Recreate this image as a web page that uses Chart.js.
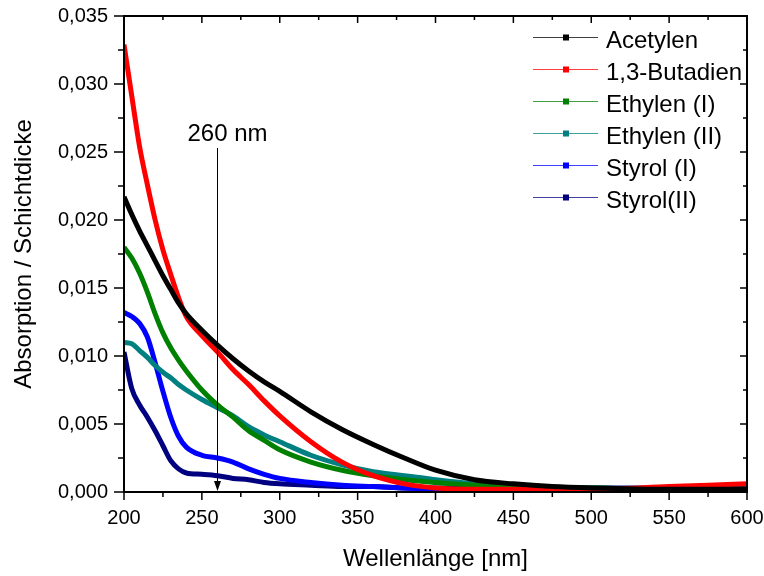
<!DOCTYPE html>
<html>
<head>
<meta charset="utf-8">
<script src="https://cdn.jsdelivr.net/npm/chart.js@4.4.1/dist/chart.umd.min.js"></script>
<style>
  html, body { margin: 0; padding: 0; background: #fff; }
  #wrap { width: 764px; height: 576px; }
</style>
</head>
<body>
<div id="wrap"><canvas id="uvChart" width="764" height="576"></canvas></div>
<script>
// Wellenlängen (nm) und Absorption / Schichtdicke
const wavelengths = [200, 205, 210, 215, 220, 225, 230, 235, 240, 250, 260, 270, 280, 290, 300, 320, 340, 360, 380, 400, 425, 450, 475, 500, 550, 600];

const acetylen   = [0.0217, 0.0204, 0.0192, 0.0181, 0.0170, 0.0159, 0.0149, 0.0139, 0.0131, 0.0119, 0.0108, 0.0098, 0.0089, 0.0081, 0.0074, 0.0059, 0.0046, 0.0035, 0.0025, 0.0016, 0.0009, 0.0006, 0.0004, 0.0003, 0.0002, 0.0002];
const butadien   = [0.0329, 0.0291, 0.0254, 0.0226, 0.0200, 0.0178, 0.0160, 0.0143, 0.0129, 0.0115, 0.0103, 0.0090, 0.0079, 0.0067, 0.0056, 0.0037, 0.0022, 0.0012, 0.0006, 0.0003, 0.0002, 0.0002, 0.0002, 0.0002, 0.0004, 0.0006];
const ethylen1   = [0.0180, 0.0172, 0.0161, 0.0147, 0.0131, 0.0117, 0.0106, 0.0097, 0.0089, 0.0075, 0.0064, 0.0055, 0.0045, 0.0038, 0.0031, 0.0022, 0.0016, 0.0012, 0.0009, 0.0007, 0.0005, 0.0004, 0.0003, 0.0003, 0.0002, 0.0002];
const ethylen2   = [0.0110, 0.0109, 0.0104, 0.0099, 0.0093, 0.0088, 0.0084, 0.0079, 0.0075, 0.0068, 0.0062, 0.0056, 0.0048, 0.0042, 0.0037, 0.0027, 0.0020, 0.0015, 0.0012, 0.0009, 0.0006, 0.0004, 0.0003, 0.0003, 0.0002, 0.0002];
const styrol1    = [0.0132, 0.0129, 0.0124, 0.0114, 0.0095, 0.0074, 0.0055, 0.0041, 0.0033, 0.0027, 0.0025, 0.0022, 0.0017, 0.0013, 0.0010, 0.0007, 0.0005, 0.0004, 0.0003, 0.0002, 0.0002, 0.0002, 0.0001, 0.0001, 0.0001, 0.0001];
const styrol2    = [0.0103, 0.0076, 0.0064, 0.0055, 0.0045, 0.0034, 0.0023, 0.0017, 0.0014, 0.0013, 0.0012, 0.0010, 0.0009, 0.0007, 0.0006, 0.0005, 0.0004, 0.0004, 0.0003, 0.0003, 0.0003, 0.0003, 0.0003, 0.0003, 0.0003, 0.0003];

const seriesNames  = ["Acetylen", "1,3-Butadien", "Ethylen (I)", "Ethylen (II)", "Styrol (I)", "Styrol(II)"];
const seriesColors = ["#000000", "#ff0000", "#008000", "#008080", "#0000ff", "#000080"];

const xTicks = [200, 250, 300, 350, 400, 450, 500, 550, 600];
const yTicks = [0, 0.005, 0.010, 0.015, 0.020, 0.025, 0.030, 0.035];

// Markierung 260 nm
const markerNm = 260;
const markerTop = 0.0253;
const markerTextY = 0.0263;
const markerLabel = "260 nm";

const FONT = "'Liberation Sans', Arial, sans-serif";

function toPoints(values) {
  return wavelengths.map((w, i) => ({ x: w, y: values[i] }));
}

const allSeries = [acetylen, butadien, ethylen1, ethylen2, styrol1, styrol2];

const datasets = allSeries.map((vals, i) => ({
  label: seriesNames[i],
  data: toPoints(vals),
  borderColor: seriesColors[i],
  backgroundColor: seriesColors[i],
  borderWidth: 5,
  pointRadius: 0,
  cubicInterpolationMode: "monotone",
  fill: false
}));

// Rahmen, Ticks, Pfeil und Legende
const originPlugin = {
  id: "originStyle",
  afterDatasetsDraw(chart) {
    const ctx = chart.ctx;
    const a = chart.chartArea;
    const xs = chart.scales.x;
    const ys = chart.scales.y;
    ctx.save();

    // Pfeil bei 260 nm
    const mx = Math.round(xs.getPixelForValue(markerNm)) + 0.5;
    const myTop = ys.getPixelForValue(markerTop);
    const myBot = ys.getPixelForValue(0);
    ctx.strokeStyle = "#000";
    ctx.fillStyle = "#000";
    ctx.lineWidth = 1;
    ctx.beginPath();
    ctx.moveTo(mx, myTop);
    ctx.lineTo(mx, myBot - 8);
    ctx.stroke();
    ctx.beginPath();
    ctx.moveTo(mx - 3.5, myBot - 11);
    ctx.lineTo(mx + 3.5, myBot - 11);
    ctx.lineTo(mx, myBot - 1);
    ctx.closePath();
    ctx.fill();
    ctx.font = "24px " + FONT;
    ctx.textAlign = "center";
    ctx.textBaseline = "middle";
    ctx.fillText(markerLabel, mx + 10, ys.getPixelForValue(markerTextY));

    // Rahmen
    ctx.lineWidth = 2;
    ctx.strokeRect(a.left, a.top, a.right - a.left, a.bottom - a.top);

    // Ticks
    ctx.lineWidth = 1.5;
    ctx.beginPath();
    for (let i = 0; i < yTicks.length; i++) {
      const y = ys.getPixelForValue(yTicks[i]);
      ctx.moveTo(a.left - 10, y); ctx.lineTo(a.left, y);
      ctx.moveTo(a.right - 7, y); ctx.lineTo(a.right, y);
      if (i < yTicks.length - 1) {
        const ym = ys.getPixelForValue((yTicks[i] + yTicks[i + 1]) / 2);
        ctx.moveTo(a.left - 6, ym); ctx.lineTo(a.left, ym);
        ctx.moveTo(a.right - 4, ym); ctx.lineTo(a.right, ym);
      }
    }
    for (let i = 0; i < xTicks.length; i++) {
      const x = xs.getPixelForValue(xTicks[i]);
      ctx.moveTo(x, a.bottom); ctx.lineTo(x, a.bottom + 8);
      ctx.moveTo(x, a.top); ctx.lineTo(x, a.top + 7);
      if (i < xTicks.length - 1) {
        const xm = xs.getPixelForValue((xTicks[i] + xTicks[i + 1]) / 2);
        ctx.moveTo(xm, a.bottom); ctx.lineTo(xm, a.bottom + 5);
        ctx.moveTo(xm, a.top); ctx.lineTo(xm, a.top + 4);
      }
    }
    ctx.stroke();

    // Legende
    ctx.font = "24px " + FONT;
    ctx.textAlign = "left";
    ctx.textBaseline = "middle";
    chart.data.datasets.forEach((ds, i) => {
      const ly = Math.round(37 + i * 31.9) + 0.5;
      ctx.strokeStyle = ds.borderColor;
      ctx.globalAlpha = 0.75;
      ctx.lineWidth = 1;
      ctx.beginPath();
      ctx.moveTo(533, ly);
      ctx.lineTo(598, ly);
      ctx.stroke();
      ctx.globalAlpha = 1;
      ctx.fillStyle = ds.borderColor;
      ctx.fillRect(563, ly - 3, 6, 6);
      ctx.fillStyle = "#000";
      ctx.fillText(ds.label, 606, ly + 4);
    });

    ctx.restore();
  }
};

new Chart(document.getElementById("uvChart"), {
  type: "line",
  data: { datasets: datasets },
  options: {
    responsive: false,
    animation: false,
    layout: { padding: { left: 0, top: 16, right: 17, bottom: 0 } },
    plugins: {
      legend: { display: false },
      tooltip: { enabled: false }
    },
    scales: {
      x: {
        type: "linear",
        min: 200,
        max: 600,
        grid: { display: false, drawTicks: false },
        border: { display: false },
        afterBuildTicks: s => { s.ticks = xTicks.map(v => ({ value: v })); },
        afterFit: s => { s.height = 84; s.paddingLeft = 0; s.paddingRight = 0; },
        ticks: {
          padding: 14,
          color: "#000",
          font: { family: FONT, size: 20 },
          callback: v => String(v)
        },
        title: {
          display: true,
          text: "Wellenlänge [nm]",
          color: "#000",
          font: { family: FONT, size: 24 },
          padding: { top: 0, bottom: 2 }
        }
      },
      y: {
        type: "linear",
        min: 0,
        max: 0.035,
        grid: { display: false, drawTicks: false },
        border: { display: false },
        afterBuildTicks: s => { s.ticks = yTicks.map(v => ({ value: v })); },
        afterFit: s => { s.width = 124; s.paddingTop = 0; s.paddingBottom = 0; },
        ticks: {
          padding: 16,
          color: "#000",
          font: { family: FONT, size: 20 },
          callback: v => v.toFixed(3).replace(".", ",")
        },
        title: {
          display: true,
          text: "Absorption / Schichtdicke",
          color: "#000",
          font: { family: FONT, size: 24 },
          padding: { top: 10, bottom: 0 }
        }
      }
    }
  },
  plugins: [originPlugin]
});
</script>
</body>
</html>
